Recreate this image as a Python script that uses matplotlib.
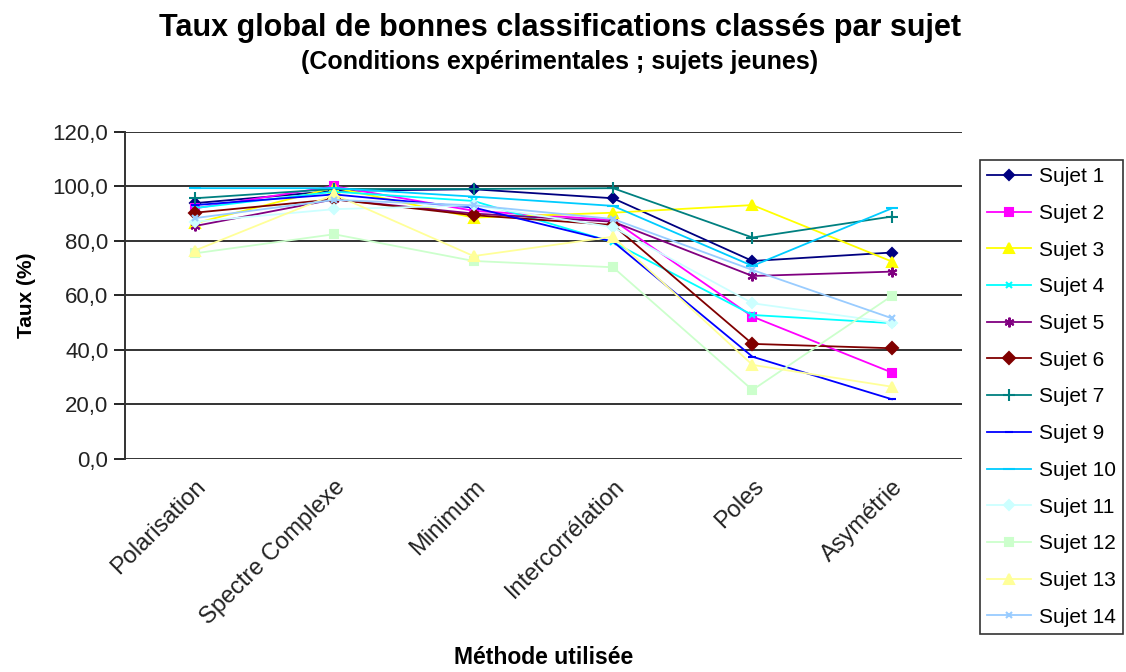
import matplotlib
matplotlib.use("Agg")
import matplotlib.pyplot as plt
import numpy as np

plt.rcParams['font.family'] = ['Liberation Sans', 'DejaVu Sans']

# Méthodes (axe des x)
methodes = ['Polarisation', 'Spectre Complexe', 'Minimum', 'Intercorrélation', 'Poles', 'Asymétrie']

# Taux de bonnes classifications par sujet (%)
sujet_1 = [93.8, 98.3, 98.9, 95.6, 72.6, 75.7]
sujet_2 = [91.9, 100.0, 91.0, 87.6, 52.2, 31.7]
sujet_3 = [86.4, 99.5, 88.5, 90.3, 93.1, 72.4]
sujet_4 = [92.0, 98.0, 94.6, 79.5, 52.8, 49.8]
sujet_5 = [85.4, 95.2, 90.0, 87.0, 67.1, 68.7]
sujet_6 = [90.3, 95.2, 89.4, 85.8, 42.2, 40.6]
sujet_7 = [95.6, 99.0, 99.0, 99.3, 81.2, 88.9]
sujet_9 = [93.1, 97.0, 92.2, 79.7, 37.5, 21.9]
sujet_10 = [99.3, 99.3, 96.2, 92.8, 70.8, 91.9]
sujet_11 = [87.0, 91.6, 93.0, 85.0, 57.1, 50.0]
sujet_12 = [75.4, 82.4, 72.6, 70.3, 25.3, 59.8]
sujet_13 = [76.4, 97.0, 74.4, 81.5, 34.5, 26.5]
sujet_14 = [88.3, 95.0, 93.0, 88.0, 69.3, 51.6]

noms = ['Sujet 1', 'Sujet 2', 'Sujet 3', 'Sujet 4', 'Sujet 5', 'Sujet 6', 'Sujet 7',
        'Sujet 9', 'Sujet 10', 'Sujet 11', 'Sujet 12', 'Sujet 13', 'Sujet 14']
series = [sujet_1, sujet_2, sujet_3, sujet_4, sujet_5, sujet_6, sujet_7,
          sujet_9, sujet_10, sujet_11, sujet_12, sujet_13, sujet_14]

couleurs = ['#000080', '#FF00FF', '#FFFF00', '#00FFFF', '#800080', '#800000', '#008080',
            '#0000FF', '#00CCFF', '#CCFFFF', '#CCFFCC', '#FFFF99', '#99CCFF']
asterisque = (6, 2, 0)
marqueurs = ['D', 's', '^', 'x', asterisque, 'D', '+', '_', '_', 'D', 's', '^', 'x']
tailles = [5, 6, 7, 5, 7, 6, 8, 6, 8, 5, 6, 7, 5]

fig = plt.figure(figsize=(11.26, 6.72), dpi=100)
ax = fig.add_axes([0.111, 0.317, 0.743, 0.487])

x = np.arange(len(methodes))
for nom, vals, c, m, ms in zip(noms, series, couleurs, marqueurs, tailles):
    ax.plot(x, vals, color=c, marker=m, markersize=ms, linewidth=1.3,
            markeredgewidth=1.5, markeredgecolor=c, label=nom)

ax.set_xlim(-0.5, len(methodes) - 0.5)
ax.set_ylim(0, 120)
ax.set_yticks(np.arange(0, 121, 20))
ax.set_yticklabels([f"{v:.1f}".replace('.', ',') for v in np.arange(0, 121, 20)],
                   fontsize=16, color='#222222')
ax.yaxis.grid(True, color='#333333', linewidth=1.4)
ax.set_axisbelow(True)
ax.tick_params(axis='y', direction='out', length=8, width=1.2, pad=4)
ax.tick_params(axis='x', length=0, pad=12)
ax.set_xticks(x)
ax.set_xticklabels(methodes, rotation=45, ha='right', va='top',
                   rotation_mode='anchor', fontsize=17, color='#222222')
for s in ['top', 'right', 'bottom']:
    ax.spines[s].set_visible(False)
ax.spines['left'].set_linewidth(1.4)
ax.spines['left'].set_color('#333333')

ax.set_ylabel('Taux (%)', fontsize=15, fontweight='bold', labelpad=12)
fig.text(0.483, 0.022, 'Méthode utilisée', ha='center', va='center',
         fontsize=16.5, fontweight='bold')

fig.text(0.497, 0.958, 'Taux global de bonnes classifications classés par sujet',
         ha='center', va='center', fontsize=22, fontweight='bold')
fig.text(0.497, 0.908, '(Conditions expérimentales ; sujets jeunes)',
         ha='center', va='center', fontsize=18, fontweight='bold')

leg = ax.legend(loc='upper left', bbox_to_anchor=(0.870, 0.762),
                bbox_transform=fig.transFigure, fontsize=15, frameon=True,
                fancybox=False, edgecolor='black', borderaxespad=0,
                handlelength=2.1, labelspacing=0.85, borderpad=0.35,
                handletextpad=0.4)
leg.get_frame().set_linewidth(1.2)

fig.savefig('out.png', dpi=100)
